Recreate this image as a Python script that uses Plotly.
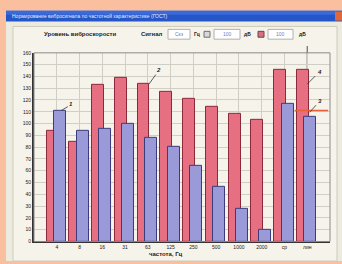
import plotly.graph_objects as go

# ---- data ----
categories = ["4", "8", "16", "31", "63", "125", "250", "500", "1000", "2000", "ср", "лин"]
measured = [93.7, 84.6, 132.7, 138.5, 133.5, 126.9, 121.1, 114.4, 108.6, 102.8, 145.9, 145.9]
corrected = [111.1, 93.7, 95.4, 99.5, 87.9, 80.4, 63.8, 46.4, 27.4, 10.0, 116.9, 106.1]
y_ticks = list(range(0, 161, 10))
norm_level = 111.0

W, H = 342, 264

def px(x):
    return x / W

def py(y):
    return 1 - y / H

fig = go.Figure()

fig.add_trace(go.Bar(
    x=list(range(len(categories))), y=measured,
    offset=-0.45, width=0.52,
    marker=dict(color="#e66f82", line=dict(color="#8a2a3a", width=1)),
    showlegend=False,
))
fig.add_trace(go.Bar(
    x=list(range(len(categories))), y=corrected,
    offset=-0.13, width=0.53,
    marker=dict(color="#9a9ad8", line=dict(color="#3c3c7c", width=1)),
    showlegend=False,
))

shapes = []
# window chrome
shapes.append(dict(type="rect", xref="paper", yref="paper", x0=px(6), x1=px(342), y0=py(264), y1=py(8),
                   fillcolor="#ecebe0", line=dict(width=0), layer="below"))
shapes.append(dict(type="rect", xref="paper", yref="paper", x0=px(6), x1=px(342), y0=py(19), y1=py(8),
                   fillcolor="#2556c8", line=dict(width=0), layer="below"))
shapes.append(dict(type="rect", xref="paper", yref="paper", x0=px(6), x1=px(342), y0=py(12), y1=py(8),
                   fillcolor="#3a6ad8", line=dict(width=0), layer="below"))
shapes.append(dict(type="rect", xref="paper", yref="paper", x0=px(335), x1=px(342), y0=py(18), y1=py(9),
                   fillcolor="#e0683a", line=dict(width=0), layer="below"))
shapes.append(dict(type="rect", xref="paper", yref="paper", x0=px(13), x1=px(337), y0=py(264), y1=py(24),
                   fillcolor="#f5f3ea", line=dict(color="#cfcbbb", width=1), layer="below"))
# toolbar boxes
for (x0, x1) in [(168, 190), (214, 240), (268, 293)]:
    shapes.append(dict(type="rect", xref="paper", yref="paper", x0=px(x0), x1=px(x1), y0=py(37), y1=py(27),
                       fillcolor="#ffffff", line=dict(color="#b0b0b0", width=1), layer="below"))
shapes.append(dict(type="rect", xref="paper", yref="paper", x0=px(204), x1=px(210), y0=py(35), y1=py(29),
                   fillcolor="#d8d8d8", line=dict(color="#707070", width=1), layer="below"))
shapes.append(dict(type="rect", xref="paper", yref="paper", x0=px(258), x1=px(264), y0=py(35), y1=py(29),
                   fillcolor="#d87080", line=dict(color="#704050", width=1), layer="below"))
# cursor line
shapes.append(dict(type="line", xref="x", yref="paper", x0=11, x1=11, y0=py(244), y1=py(44),
                   line=dict(color="#505050", width=1), layer="below"))
# norm level line
shapes.append(dict(type="line", xref="x", yref="y", x0=10.45, x1=11.92, y0=norm_level, y1=norm_level,
                   line=dict(color="#e8603a", width=1.5)))
# frame top/right
shapes.append(dict(type="rect", xref="paper", yref="paper", x0=px(34), x1=px(330), y0=py(244), y1=py(51),
                   line=dict(color="#8a8a8a", width=1)))

annotations = []
font_small = dict(family="Liberation Sans", size=6, color="#222222")
annotations.append(dict(xref="paper", yref="paper", x=px(10), y=py(13.5), xanchor="left", yanchor="middle",
                        text="Нормирование вибросигнала по частотной характеристике (ГОСТ)", showarrow=False,
                        font=dict(family="Liberation Sans", size=5, color="#e8eeff")))
annotations.append(dict(xref="paper", yref="paper", x=px(80), y=py(32), xanchor="center", yanchor="middle",
                        text="<b>Уровень виброскорости</b>", showarrow=False, font=font_small))
annotations.append(dict(xref="paper", yref="paper", x=px(151), y=py(32), xanchor="center", yanchor="middle",
                        text="<b>Сигнал</b>", showarrow=False, font=font_small))
for (x, t, c) in [(179, "Скз", "#7080c0"), (227, "100", "#7080c0"), (280, "100", "#7080c0"),
                  (197, "<b>Гц</b>", "#222222"), (247, "<b>дБ</b>", "#222222"), (302, "<b>дБ</b>", "#222222")]:
    annotations.append(dict(xref="paper", yref="paper", x=px(x), y=py(32), xanchor="center", yanchor="middle",
                            text=t, showarrow=False, font=dict(family="Liberation Sans", size=5, color=c)))
annotations.append(dict(xref="paper", yref="paper", x=px(166), y=py(257), xanchor="center", yanchor="middle",
                        text="<b>частота, Гц</b>", showarrow=False, font=font_small))
# curve markers
arrow_font = dict(family="Liberation Sans", size=6, color="#222222")
for (xv, yv, t, ax, ay) in [(0.2, corrected[0], "1", 10, -6), (4.05, measured[4], "2", 10, -14),
                            (11.1, 109.5, "3", 10, -11), (11.0, 133.5, "4", 12, -12)]:
    annotations.append(dict(xref="x", yref="y", x=xv, y=yv, text="<i><b>" + t + "</b></i>", ax=ax, ay=ay,
                            showarrow=True, arrowhead=0, arrowwidth=0.8, arrowcolor="#333333",
                            font=arrow_font))

fig.update_layout(
    width=W, height=H,
    margin=dict(l=0, r=0, t=0, b=0),
    paper_bgcolor="#f9bf9f",
    plot_bgcolor="#fdfdf5",
    barmode="overlay",
    bargap=0,
    shapes=shapes,
    annotations=annotations,
    xaxis=dict(
        domain=[px(34), px(330)],
        range=[-1.0, 12.0],
        tickmode="array", tickvals=list(range(len(categories))), ticktext=categories,
        tickfont=dict(family="Liberation Sans", size=5, color="#222222"),
        showgrid=True, gridcolor="#cfcfc6", gridwidth=1,
        showline=True, linecolor="#333333", linewidth=2,
        ticks="", zeroline=False,
    ),
    yaxis=dict(
        domain=[py(244), py(51)],
        range=[0, 160],
        tickmode="array", tickvals=y_ticks, ticktext=[str(v) for v in y_ticks],
        tickfont=dict(family="Liberation Sans", size=5, color="#222222"),
        showgrid=True, gridcolor="#cfcfc6", gridwidth=1,
        showline=True, linecolor="#333333", linewidth=2,
        ticks="", zeroline=False,
    ),
)

fig.write_html("out.html", config={"displayModeBar": False},
               post_script="document.body.style.margin='0';document.body.style.overflow='hidden';")
